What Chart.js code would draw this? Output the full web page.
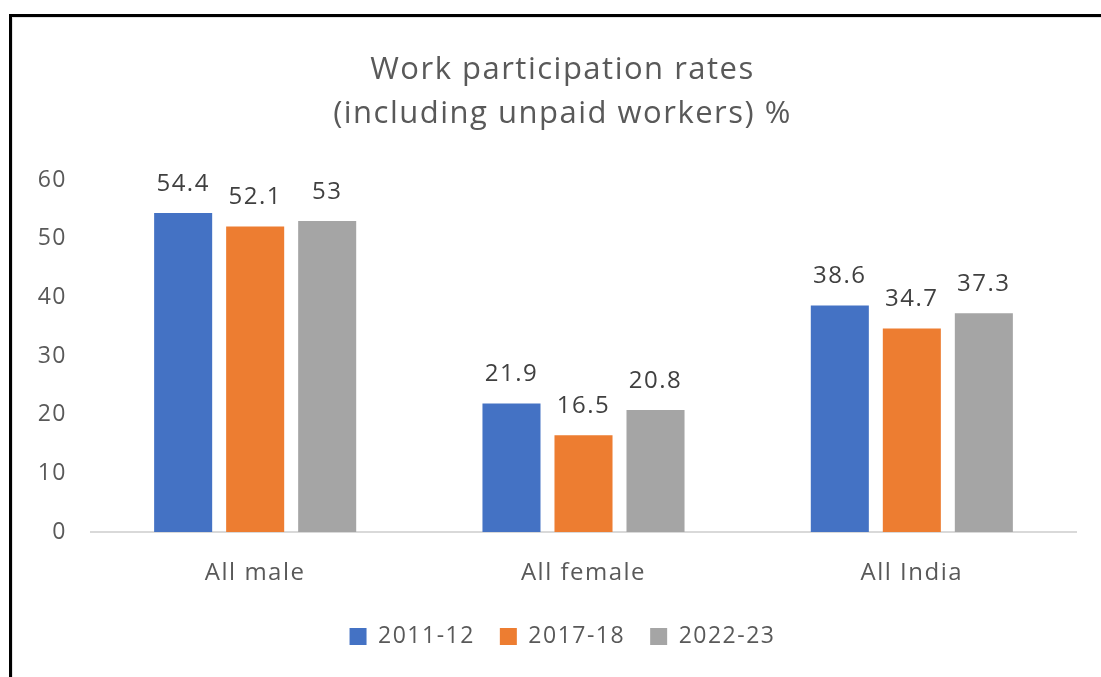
<!DOCTYPE html>
<html>
<head>
<meta charset="utf-8">
<script src="https://cdn.jsdelivr.net/npm/chart.js@4"></script>
<style>
  html, body { margin: 0; padding: 0; background: #fff; overflow: hidden; width: 1101px; height: 677px; }
  #frame {
    position: absolute; left: 9px; top: 14px; width: 1200px; height: 800px;
    border-left: 3px solid #000; border-top: 3px solid #000;
    box-shadow: inset 1px 1px 0 #e3e3e3;
  }
  #wrap { position: absolute; left: 0; top: 0; width: 1125px; height: 677px; }
</style>
</head>
<body>
<div id="frame"></div>
<div id="wrap"><canvas id="myChart" width="1125" height="677"></canvas></div>
<script>
// data
const categories = ['All male', 'All female', 'All India'];
const seriesNames = ['2011-12', '2017-18', '2022-23'];
const values2011 = [54.4, 21.9, 38.6];
const values2017 = [52.1, 16.5, 34.7];
const values2022 = [53, 20.8, 37.3];
const seriesColors = ['#4472C4', '#ED7D31', '#A5A5A5'];
const titleLines = ['Work participation rates', '(including unpaid workers) %'];

const fontFamily = '"Open Sans", "Liberation Sans", sans-serif';
const textColor = '#595959';

// a bit of tracking so the text widths are closer to the original
const spacing = {
  id: 'spacing',
  beforeUpdate(chart) { chart.ctx.letterSpacing = '1.5px'; },
  beforeDraw(chart) { chart.ctx.letterSpacing = '1.5px'; },
};

// draws the value above every bar
const barValues = {
  id: 'barValues',
  afterDatasetsDraw(chart) {
    const ctx = chart.ctx;
    ctx.save();
    ctx.font = '24px ' + fontFamily;
    ctx.fillStyle = '#404040';
    ctx.textAlign = 'center';
    ctx.textBaseline = 'bottom';
    chart.data.datasets.forEach((ds, i) => {
      chart.getDatasetMeta(i).data.forEach((bar, j) => {
        ctx.fillText(String(ds.data[j]), bar.x, bar.y - 17);
      });
    });
    ctx.restore();
  },
};

const ctx = document.getElementById('myChart');
new Chart(ctx, {
  type: 'bar',
  data: {
    labels: categories,
    datasets: [
      { label: seriesNames[0], data: values2011, backgroundColor: seriesColors[0] },
      { label: seriesNames[1], data: values2017, backgroundColor: seriesColors[1] },
      { label: seriesNames[2], data: values2022, backgroundColor: seriesColors[2] },
    ],
  },
  options: {
    responsive: false,
    animation: false,
    devicePixelRatio: 1,
    layout: { padding: { left: 0, right: 0, top: 0, bottom: 19 } },
    datasets: {
      bar: { barPercentage: 0.806, categoryPercentage: 0.658 },
    },
    plugins: {
      title: {
        display: true,
        text: titleLines,
        color: textColor,
        font: { family: fontFamily, size: 31, weight: 'normal', lineHeight: 1.42 },
        padding: { top: 48, bottom: 44 },
      },
      legend: {
        position: 'bottom',
        labels: {
          color: textColor,
          font: { family: fontFamily, size: 23 },
          boxWidth: 17,
          boxHeight: 17,
          padding: 25,
        },
      },
      tooltip: { enabled: false },
    },
    scales: {
      x: {
        grid: { display: false, drawTicks: false },
        border: { display: true, color: '#d9d9d9', width: 2 },
        ticks: { color: textColor, font: { family: fontFamily, size: 24 }, padding: 27 },
        afterFit(scale) { scale.height = 68; },
      },
      y: {
        min: 0,
        max: 60,
        grid: { display: false, drawTicks: false },
        border: { display: false },
        ticks: {
          stepSize: 10,
          color: textColor,
          font: { family: fontFamily, size: 23 },
          padding: 24,
        },
        afterFit(scale) { scale.width = 91; },
      },
      // empty right axis, only keeps the plot off the right edge
      yRight: {
        position: 'right',
        grid: { display: false, drawTicks: false },
        border: { display: false },
        ticks: { display: false },
        afterFit(scale) { scale.width = 49; },
      },
    },
  },
  plugins: [spacing, barValues],
});
</script>
</body>
</html>
